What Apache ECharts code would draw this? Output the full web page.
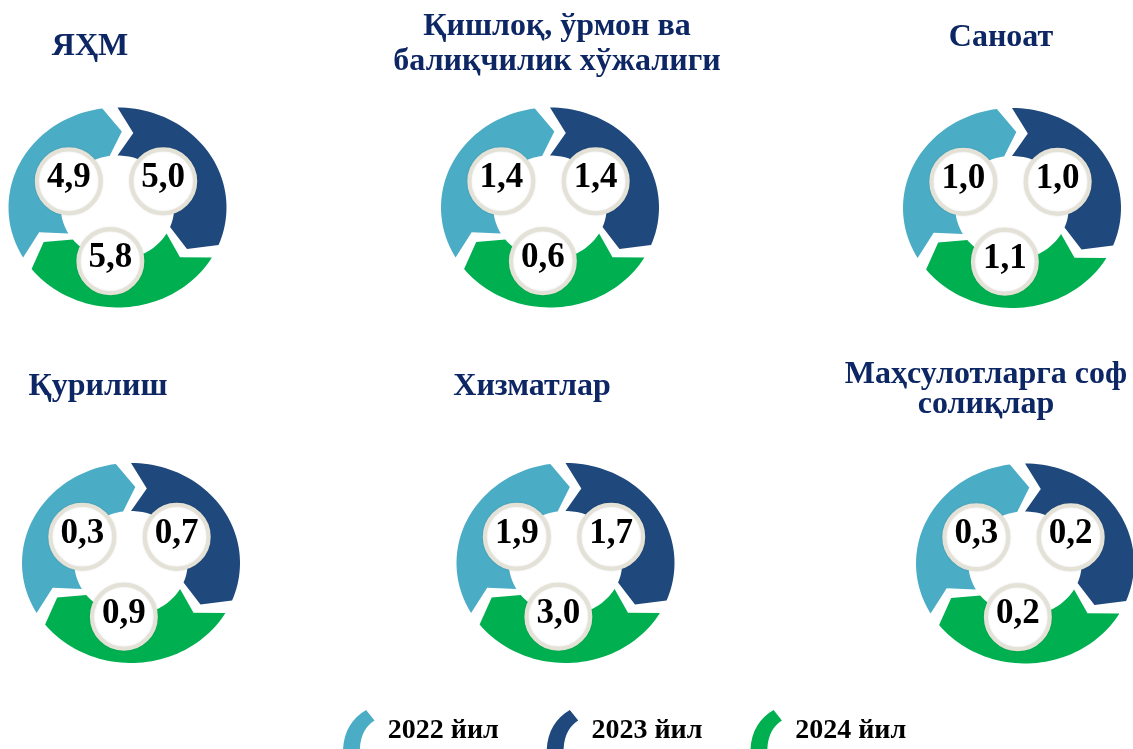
<!DOCTYPE html>
<html>
<head>
<meta charset="utf-8">
<script src="https://cdn.jsdelivr.net/npm/echarts@6/dist/echarts.min.js"></script>
<style>
html,body{margin:0;padding:0;background:#ffffff;}
#chart{width:1133px;height:749px;}
</style>
</head>
<body>
<div id="chart"></div>
<script>
// ---- data ----
const categories = ['ЯҲМ', 'Қишлоқ, ўрмон ва\nбалиқчилик хўжалиги', 'Саноат', 'Қурилиш', 'Хизматлар', 'Маҳсулотларга соф\nсолиқлар'];
const years = ['2022 йил', '2023 йил', '2024 йил'];
const values2022 = [4.9, 1.4, 1.0, 0.3, 1.9, 0.3];
const values2023 = [5.0, 1.4, 1.0, 0.7, 1.7, 0.2];
const values2024 = [5.8, 0.6, 1.1, 0.9, 3.0, 0.2];

// ---- layout (not data) ----
const ringCenters = [[117.5, 207.5], [550, 207.5], [1012, 208], [131, 563], [565.5, 563], [1025, 563.5]];
const titleAnchors = [[90, 30, 34], [557, 9, 35], [1001, 21, 34], [98, 370, 34], [532, 370, 34], [986, 360, 30]];
const colors = ['#4bacc6', '#1f497d', '#00b050'];
const segStart = [150, -90, 30];   // degrees, screen coords, clockwise
const circleAngle = [-151, -29, 96];
const SPAN = 112, TIP = 11, R_OUT = 100, R_IN = 52, SX = 1.09;

function ringPt(cx, cy, a, rad) {
  const t = a * Math.PI / 180;
  return [cx + Math.cos(t) * rad * SX, cy + Math.sin(t) * rad];
}
function segmentPoints(cx, cy, s) {
  const pts = [];
  const e = s + SPAN, n = 48;
  for (let k = 0; k <= n; k++) pts.push(ringPt(cx, cy, s + SPAN * k / n, R_OUT));
  pts.push(ringPt(cx, cy, e + TIP, (R_OUT + R_IN) / 2));
  for (let k = n; k >= 0; k--) pts.push(ringPt(cx, cy, s + SPAN * k / n, R_IN));
  pts.push(ringPt(cx, cy, s + TIP, (R_OUT + R_IN) / 2));
  return pts;
}
function fmt(v) { return v.toFixed(1).replace('.', ','); }

function makeSeries(yearIdx, values) {
  return {
    type: 'custom',
    name: years[yearIdx],
    coordinateSystem: 'none',
    itemStyle: { color: colors[yearIdx] },
    data: values.map((v, i) => [i, v]),
    renderItem: function (params, api) {
      const i = api.value(0);
      const v = api.value(1);
      const c = ringCenters[i];
      const cxC = c[0] - 1.5, cyC = c[1];
      const ang = circleAngle[yearIdx] * Math.PI / 180;
      const px = cxC + Math.cos(ang) * 54;
      const py = cyC + Math.sin(ang) * 54;
      return {
        type: 'group',
        children: [
          { type: 'polygon', shape: { points: segmentPoints(c[0], c[1], segStart[yearIdx]) },
            style: { fill: colors[yearIdx] } },
          { type: 'circle', shape: { cx: px, cy: py, r: 32 },
            style: { fill: '#ffffff', stroke: '#e4e2d6', lineWidth: 4,
                     shadowBlur: 2, shadowColor: 'rgba(0,0,0,0.15)' } },
          { type: 'text', x: px, y: py - 3,
            style: { text: fmt(v), fill: '#000000', align: 'center', verticalAlign: 'middle',
                     fontFamily: '"Liberation Serif", "Times New Roman", serif',
                     fontWeight: 'bold', fontSize: 35 } }
        ]
      };
    }
  };
}

const legendIcon = 'path://M0,40 C0,22 8,8 22,0 L30,10 C22,15 16,24 16,40 Z';

const chart = echarts.init(document.getElementById('chart'), null, { renderer: 'canvas' });
chart.setOption({
  backgroundColor: '#ffffff',
  animation: false,
  title: categories.map((t, i) => ({
    text: t,
    left: titleAnchors[i][0],
    top: titleAnchors[i][1],
    textAlign: 'center',
    padding: 0,
    textStyle: {
      fontFamily: '"Liberation Serif", "Times New Roman", serif',
      fontWeight: 'bold', fontSize: 32, color: '#0d2664',
      lineHeight: titleAnchors[i][2]
    }
  })),
  legend: {
    data: years.map((y) => ({ name: y, icon: legendIcon })),
    left: 338, top: 705,
    itemWidth: 32, itemHeight: 42, itemGap: 48,
    selectedMode: false,
    textStyle: {
      fontFamily: '"Liberation Serif", "Times New Roman", serif',
      fontWeight: 'bold', fontSize: 28, color: '#000000',
      padding: [0, 0, 0, 8]
    }
  },
  series: [makeSeries(0, values2022), makeSeries(1, values2023), makeSeries(2, values2024)]
});
</script>
</body>
</html>
